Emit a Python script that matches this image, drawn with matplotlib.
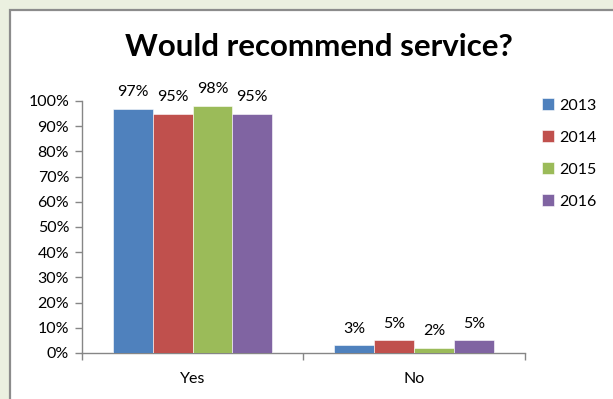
import matplotlib
matplotlib.use('Agg')
import matplotlib.pyplot as plt
from matplotlib.patches import Rectangle

plt.rcParams['font.family'] = ['Lato', 'DejaVu Sans']

categories = ['Yes', 'No']
years = ['2013', '2014', '2015', '2016']
values = {
    '2013': [97, 3],
    '2014': [95, 5],
    '2015': [98, 2],
    '2016': [95, 5],
}
colors = ['#4F81BD', '#C0504D', '#9BBB59', '#8064A2']

fig = plt.figure(figsize=(6.13, 3.99), dpi=100)
fig.patch.set_facecolor('#EBF0E0')

# white chart panel with grey border
fig.patches.append(Rectangle((9.5 / 613, -0.1), 1.2, 1 - 9.5 / 399 + 0.1,
                             transform=fig.transFigure, facecolor='white',
                             edgecolor='#8C8C8C', linewidth=1.6, zorder=-10))

ax = fig.add_axes([81.7 / 613, 46 / 399, (525 - 81.7) / 613, (353 - 101) / 399])
ax.set_facecolor('none')

width = 0.18
xs = range(len(categories))
for i, (yr, c) in enumerate(zip(years, colors)):
    pos = [x + (i - 1.5) * width for x in xs]
    bars = ax.bar(pos, values[yr], width=width, color=c, edgecolor='white',
                  linewidth=0.4, label=yr, zorder=3)
    for b, v in zip(bars, values[yr]):
        ax.annotate(f'{v}%', (b.get_x() + b.get_width() / 2, b.get_height()),
                    xytext=(0, 7), textcoords='offset points',
                    ha='center', va='bottom', fontsize=11.5, color='black')

ax.set_xlim(-0.5, 1.5)
ax.set_ylim(0, 100)
ax.set_yticks(range(0, 101, 10))
ax.set_yticklabels([f'{t}%' for t in range(0, 101, 10)], fontsize=11.5)
ax.set_xticks(list(xs))
ax.set_xticklabels(categories, fontsize=11.5)
ax.set_xticks([-0.5, 0.5, 1.5], minor=True)
ax.tick_params(axis='x', which='major', length=0, pad=14)
ax.tick_params(axis='x', which='minor', length=5, color='#868686', width=1)
ax.tick_params(axis='y', length=5, color='#868686', width=1, pad=4)

for s in ['top', 'right']:
    ax.spines[s].set_visible(False)
for s in ['left', 'bottom']:
    ax.spines[s].set_color('#868686')
    ax.spines[s].set_linewidth(1)

fig.text(319 / 613, 1 - 47 / 399, 'Would recommend service?', ha='center',
         va='center', fontsize=22.5, fontweight='bold')

ax.legend(loc='upper left', bbox_to_anchor=(536 / 613, 1 - 92 / 399),
          bbox_transform=fig.transFigure, frameon=False, fontsize=11.5,
          handlelength=0.75, handleheight=0.75, handletextpad=0.3,
          labelspacing=1.1, borderaxespad=0)

fig.savefig('out.png', dpi=100, facecolor=fig.get_facecolor())
